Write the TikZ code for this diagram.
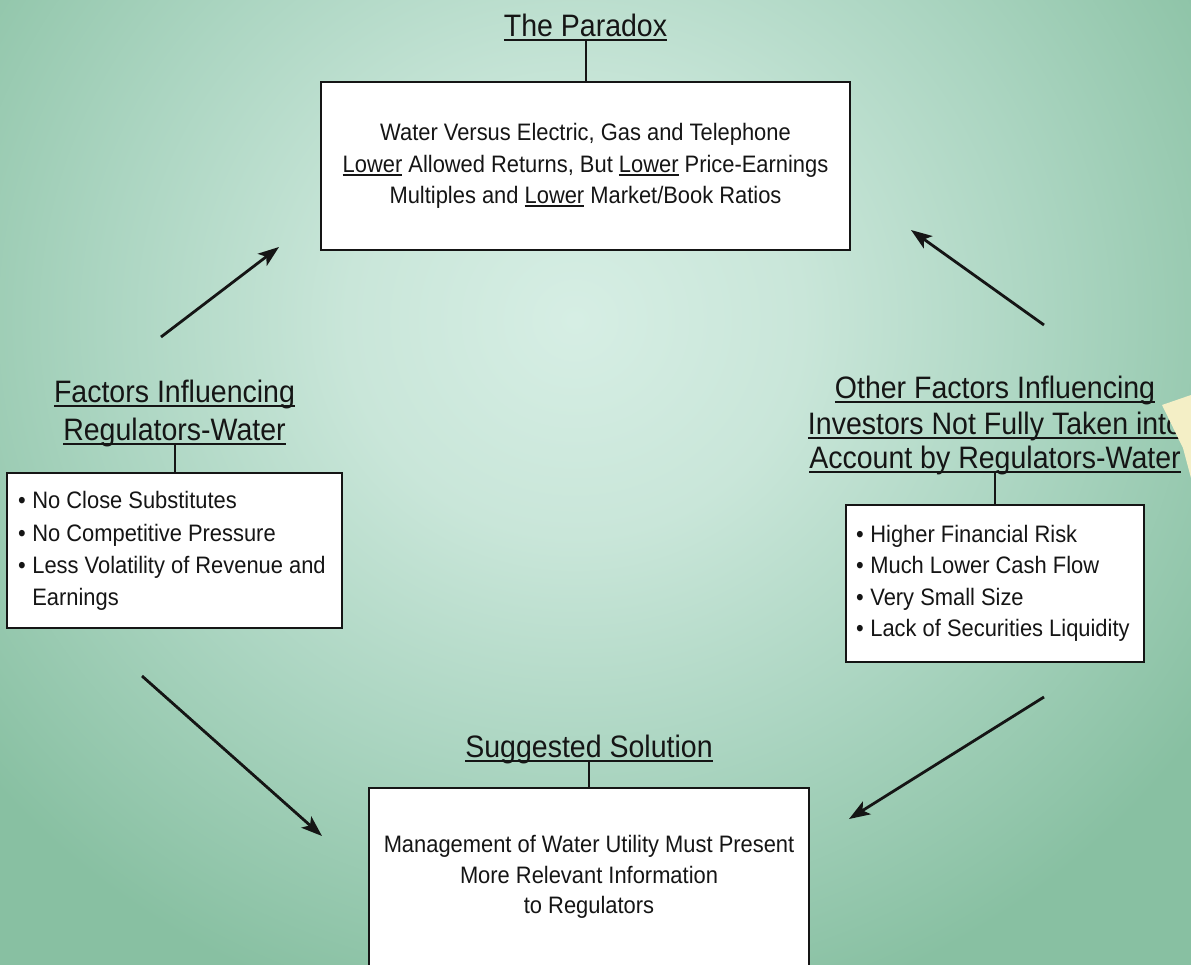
\documentclass[tikz,border=0pt]{standalone}
\usepackage{fontspec}
\setmainfont{Liberation Sans}[FakeStretch=0.92]
\usetikzlibrary{arrows.meta}
\definecolor{bgin}{HTML}{D6EEE4}
\definecolor{bgin2}{HTML}{C9E6D9}
\definecolor{bgmid}{HTML}{ABD5C1}
\definecolor{bgout}{HTML}{88C0A2}
\definecolor{paper}{HTML}{F4EFC6}
\definecolor{ink}{HTML}{151515}
\pgfdeclareradialshading{glow}{\pgfpoint{0bp}{0bp}}{color(0bp)=(bgin); color(6bp)=(bgin2); color(12.5bp)=(bgmid); color(20bp)=(bgout); color(50bp)=(bgout)}
\newsavebox\ulbox
\newcommand\hul[1]{\sbox\ulbox{#1}\rlap{\rule[-4.5pt]{\wd\ulbox}{1.8pt}}\usebox\ulbox}
\newcommand\bul[1]{\sbox\ulbox{#1}\rlap{\rule[-3.5pt]{\wd\ulbox}{1.4pt}}\usebox\ulbox}
\begin{document}
\begin{tikzpicture}[x=1pt,y=-1pt,
  box/.style={draw=ink, line width=2.6pt, fill=white, inner sep=0pt},
  body/.style={inner sep=0pt, font=\fontsize{23.8}{31.5}\selectfont, text=ink},
  head/.style={inner sep=0pt, font=\fontsize{31}{36}\selectfont, text=ink},
  link/.style={draw=ink, line width=2pt},
  flow/.style={draw=ink, line width=2.8pt, -{Stealth[length=21pt,width=15pt,inset=5pt]}}]
\clip (0,0) rectangle (1191,964);
\fill[bgout] (0,0) rectangle (1191,964);
\shade[shading=glow] (575,320) ellipse [x radius=950, y radius=900];

% boxes
\node[box, minimum width=529pt, minimum height=168pt] (pbox) at (585.5,166) {};
\node[box, minimum width=335pt, minimum height=155pt] (lbox) at (174.5,550.5) {};
\node[box, minimum width=298pt, minimum height=157pt] (rbox) at (995,583.5) {};
\node[box, minimum width=440pt, minimum height=232pt] (sbox) at (589,904) {};

% paradox
\node[head, anchor=base] (ph) at (585.5,36) {\hul{The Paradox}};
\node[body, anchor=base] (pt1) at (585.5,140) {Water Versus Electric, Gas and Telephone};
\node[body, anchor=base] (pt2) at (585.5,172) {\bul{Lower} Allowed Returns, But \bul{Lower} Price-Earnings};
\node[body, anchor=base] (pt3) at (585.5,203) {Multiples and \bul{Lower} Market/Book Ratios};
\draw[link] ([yshift=-5pt]ph.base) -- (pbox.north);

% left
\node[head, anchor=base] (lh1) at (174.5,402) {\hul{Factors Influencing}};
\node[head, anchor=base] (lh2) at (174.5,440) {\hul{Regulators-Water}};
\draw[link] ([yshift=-5pt]lh2.base) -- (lbox.north);
\node[body, anchor=base west] (lb1) at (18,508) {\textbullet\hspace{6.5pt}No Close Substitutes};
\node[body, anchor=base west] (lb2) at (18,541) {\textbullet\hspace{6.5pt}No Competitive Pressure};
\node[body, anchor=base west] (lb3) at (18,573) {\textbullet\hspace{6.5pt}Less Volatility of Revenue and};
\node[body, anchor=base west] (lb4) at (18,605) {\phantom{\textbullet}\hspace{6.5pt}Earnings};

% right
\node[head, anchor=base] (rh1) at (995,398) {\hul{Other Factors Influencing}};
\node[head, anchor=base] (rh2) at (995,434) {\hul{Investors Not Fully Taken into}};
\node[head, anchor=base] (rh3) at (995,468) {\hul{Account by Regulators-Water}};
\draw[link] ([yshift=-5pt]rh3.base) -- (rbox.north);
\node[body, anchor=base west] (rb1) at (856,542) {\textbullet\hspace{6.5pt}Higher Financial Risk};
\node[body, anchor=base west] (rb2) at (856,573.5) {\textbullet\hspace{6.5pt}Much Lower Cash Flow};
\node[body, anchor=base west] (rb3) at (856,605) {\textbullet\hspace{6.5pt}Very Small Size};
\node[body, anchor=base west] (rb4) at (856,636.5) {\textbullet\hspace{6.5pt}Lack of Securities Liquidity};

% solution
\node[head, anchor=base] (sh) at (589,757) {\hul{Suggested Solution}};
\draw[link] ([yshift=-5pt]sh.base) -- (sbox.north);
\node[body, anchor=base] (st1) at (589,852) {Management of Water Utility Must Present};
\node[body, anchor=base] (st2) at (589,883) {More Relevant Information};
\node[body, anchor=base] (st3) at (589,913) {to Regulators};

% arrows
\coordinate (a1s) at (161,337); \coordinate (a1e) at (279,247);
\coordinate (a2s) at (1044,325); \coordinate (a2e) at (911,230);
\coordinate (a3s) at (142,676); \coordinate (a3e) at (322,836);
\coordinate (a4s) at (1044,697); \coordinate (a4e) at (849,819);
\draw[flow] (a1s) -- (a1e);
\draw[flow] (a2s) -- (a2e);
\draw[flow] (a3s) -- (a3e);
\draw[flow] (a4s) -- (a4e);

% paper corner at right edge
\fill[paper] (1162,405) -- (1191,395) -- (1191,478) -- (1183,448) -- cycle;
\end{tikzpicture}
\end{document}
